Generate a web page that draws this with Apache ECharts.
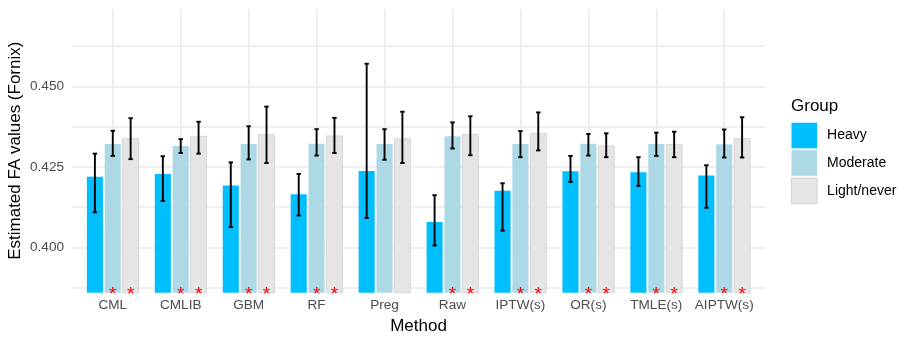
<!DOCTYPE html>
<html>
<head>
<meta charset="utf-8">
<script src="https://cdn.jsdelivr.net/npm/echarts@6/dist/echarts.min.js"></script>
<style>
html, body { margin: 0; padding: 0; background: #fff; }
#main { width: 913px; height: 343px; }
</style>
</head>
<body>
<div id="main"></div>
<script>
// 横轴类别
var methods = ['CML', 'CMLIB', 'GBM', 'RF', 'Preg', 'Raw', 'IPTW(s)', 'OR(s)', 'TMLE(s)', 'AIPTW(s)'];
var groups = ['Heavy', 'Moderate', 'Light/never'];

// 均值与误差线上下界
var heavyMean = [0.4219, 0.4228, 0.4192, 0.4165, 0.4237, 0.4079, 0.4176, 0.4236, 0.4233, 0.4223];
var heavyLow  = [0.4109, 0.4144, 0.4063, 0.4099, 0.4091, 0.4006, 0.4052, 0.4203, 0.4191, 0.4123];
var heavyHigh = [0.4291, 0.4283, 0.4264, 0.4228, 0.4570, 0.4162, 0.4199, 0.4284, 0.4280, 0.4255];

var moderateMean = [0.4321, 0.4315, 0.4321, 0.4322, 0.4321, 0.4345, 0.4321, 0.4322, 0.4321, 0.4320];
var moderateLow  = [0.4284, 0.4293, 0.4273, 0.4285, 0.4272, 0.4307, 0.4280, 0.4285, 0.4284, 0.4279];
var moderateHigh = [0.4362, 0.4336, 0.4376, 0.4367, 0.4367, 0.4388, 0.4361, 0.4352, 0.4356, 0.4366];

var lightMean = [0.4338, 0.4345, 0.4350, 0.4346, 0.4338, 0.4351, 0.4354, 0.4315, 0.4319, 0.4338];
var lightLow  = [0.4274, 0.4291, 0.4262, 0.4293, 0.4262, 0.4286, 0.4301, 0.4280, 0.4280, 0.4279];
var lightHigh = [0.4401, 0.4390, 0.4437, 0.4402, 0.4421, 0.4407, 0.4419, 0.4354, 0.4359, 0.4404];

// 显著性星号 (1 = 有 *)
var heavySig    = [0, 0, 0, 0, 0, 0, 0, 0, 0, 0];
var moderateSig = [1, 1, 1, 1, 0, 1, 1, 1, 1, 1];
var lightSig    = [1, 1, 1, 1, 0, 1, 1, 1, 1, 1];

var yTickLabels = ['0.400', '0.425', '0.450'];

// 样式
var colors = ['#00BFFF', '#ADD8E6', '#E5E5E5'];
var offsets = [-0.263, 0, 0.263];
var slot = 0.263;
var yMin = 0.3859, yMax = 0.4741;
var font = "'Liberation Sans', Arial, sans-serif";
var gridColor = '#EBEBEB';

var panelLeft = 72, panelRight = 765, unit = (panelRight - panelLeft) / 10.2;

var myChart = echarts.init(document.getElementById('main'));

function makeSeries(gi, mean, low, high, sig) {
    var data = methods.map(function (m, i) {
        return [i, mean[i], low[i], high[i], sig[i]];
    });
    return {
        name: groups[gi],
        type: 'custom',
        xAxisIndex: 0,
        yAxisIndex: 0,
        itemStyle: { color: colors[gi] },
        encode: { x: 0, y: [1, 2, 3] },
        data: data,
        z: 3,
        renderItem: function (params, api) {
            var x = api.value(0) + offsets[gi];
            var top = api.coord([x, api.value(1)]);
            var base = api.coord([x, yMin]);
            var u = api.size([1, 0])[0];
            var w = slot * u - 1.8;
            var lo = api.coord([x, api.value(2)]);
            var hi = api.coord([x, api.value(3)]);
            var cap = 2.2;
            var children = [
                {
                    type: 'rect',
                    shape: { x: top[0] - w / 2, y: top[1], width: w, height: base[1] - top[1] },
                    style: gi === 2 ? { fill: colors[gi], stroke: '#D2D2D2', lineWidth: 0.8 } : { fill: colors[gi] }
                },
                {
                    type: 'line',
                    shape: { x1: hi[0], y1: hi[1], x2: lo[0], y2: lo[1] },
                    style: { stroke: '#000', lineWidth: 1.9 }
                },
                {
                    type: 'line',
                    shape: { x1: hi[0] - cap, y1: hi[1], x2: hi[0] + cap, y2: hi[1] },
                    style: { stroke: '#000', lineWidth: 1.9 }
                },
                {
                    type: 'line',
                    shape: { x1: lo[0] - cap, y1: lo[1], x2: lo[0] + cap, y2: lo[1] },
                    style: { stroke: '#000', lineWidth: 1.9 }
                }
            ];
            if (api.value(4) === 1) {
                children.push({
                    type: 'text',
                    style: {
                        text: '*', x: base[0], y: base[1] + 1.5,
                        fill: '#FF0000', fontSize: 19, fontFamily: font,
                        align: 'center', verticalAlign: 'middle'
                    }
                });
            }
            return { type: 'group', children: children };
        }
    };
}

var option = {
    animation: false,
    grid: [
        // 水平网格线与 y 轴刻度
        { left: panelLeft, width: panelRight - panelLeft, top: 5.75, height: 322.2 },
        // 类别轴（竖直网格线）
        { left: panelLeft + 0.6 * unit, width: 9 * unit, top: 8.7, height: 284 }
    ],
    xAxis: [
        { type: 'value', gridIndex: 0, min: -0.6, max: 9.6, show: false },
        {
            type: 'category', gridIndex: 1, data: methods, boundaryGap: false,
            axisLine: { show: false }, axisTick: { show: false },
            axisLabel: { interval: 0, margin: 6, color: '#4D4D4D', fontSize: 13.6, fontFamily: font },
            splitLine: { show: true, lineStyle: { color: gridColor, width: 1.6 } },
            name: 'Method', nameLocation: 'middle', nameGap: 23,
            nameTextStyle: { color: '#000', fontSize: 17, fontFamily: font }
        }
    ],
    yAxis: [
        {
            type: 'value', gridIndex: 0, min: 0.375, max: 0.475, interval: 0.0125,
            axisLine: { show: false }, axisTick: { show: false },
            axisLabel: {
                margin: 8, color: '#4D4D4D', fontSize: 13.6, fontFamily: font,
                formatter: function (v) {
                    var s = v.toFixed(3);
                    return yTickLabels.indexOf(s) >= 0 ? s : '';
                }
            },
            splitLine: { show: true, showMinLine: false, showMaxLine: false, lineStyle: { color: gridColor, width: 1.6 } }
        },
        { type: 'value', gridIndex: 1, min: yMin, max: yMax, show: false, splitLine: { show: false } }
    ],
    legend: {
        orient: 'vertical', left: 791, top: 122.7, padding: 0,
        itemWidth: 25.6, itemHeight: 25.6, itemGap: 1.9, icon: 'rect',
        selectedMode: false,
        textStyle: { color: '#000', fontSize: 14, fontFamily: font, padding: [0, 0, 0, 5] },
        data: [
            { name: 'Heavy' },
            { name: 'Moderate' },
            { name: 'Light/never', itemStyle: { borderColor: '#D2D2D2', borderWidth: 1 } }
        ]
    },
    graphic: [
        {
            type: 'text', x: 15, y: 150.7, rotation: Math.PI / 2,
            style: { text: 'Estimated FA values (Fornix)', fill: '#000', fontSize: 17, fontFamily: font, align: 'center', verticalAlign: 'middle' }
        },
        {
            type: 'text', x: 791, y: 106.5,
            style: { text: 'Group', fill: '#000', fontSize: 17, fontFamily: font, align: 'left', verticalAlign: 'middle' }
        }
    ],
    series: [
        makeSeries(0, heavyMean, heavyLow, heavyHigh, heavySig),
        makeSeries(1, moderateMean, moderateLow, moderateHigh, moderateSig),
        makeSeries(2, lightMean, lightLow, lightHigh, lightSig)
    ]
};

myChart.setOption(option);
</script>
</body>
</html>
